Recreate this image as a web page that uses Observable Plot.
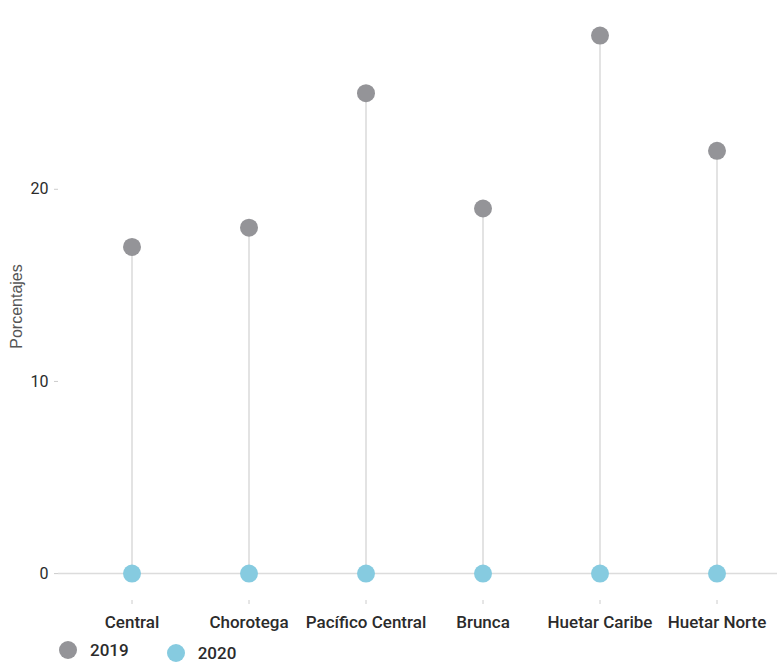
<!DOCTYPE html>
<html>
<head>
<meta charset="utf-8">
<script src="https://cdn.jsdelivr.net/npm/d3@7"></script>
<script src="https://cdn.jsdelivr.net/npm/@observablehq/plot@0.6"></script>
<style>
  body { margin: 0; background: #fff; font-family: Roboto, "Noto Sans", sans-serif; overflow: hidden; }
  #chart svg { display: block; }
  #legend { display: flex; align-items: flex-start; height: 22px; padding-left: 59px; font-size: 17px; line-height: 18px; font-weight: 500; color: #2b2b2b; }
  .item { display: flex; align-items: center; margin-right: 38px; }
  .sw { width: 18px; height: 18px; border-radius: 50%; margin-right: 13px; }
</style>
</head>
<body>
<div id="chart"></div>
<div id="legend"></div>
<script>
const regions = ["Central", "Chorotega", "Pacífico Central", "Brunca", "Huetar Caribe", "Huetar Norte"];
const values2019 = [17, 18, 25, 19, 28, 22];
const values2020 = [0, 0, 0, 0, 0, 0];
const years = ["2019", "2020"];
const colors = ["#949498", "#86cbe0"];
const yTicks = [0, 10, 20];

const data = regions.map((r, i) => ({region: r, v2019: values2019[i], v2020: values2020[i]}));

const plot = Plot.plot({
  width: 778,
  height: 641,
  marginLeft: 58,
  marginRight: 1,
  marginTop: 12,
  marginBottom: 41,
  style: {fontFamily: "Roboto, 'Noto Sans', sans-serif", fontSize: "16px", color: "#2b2b2b"},
  x: {type: "band", domain: regions, padding: 0, insetLeft: 12},
  y: {domain: [-1.4, 29.2]},
  marks: [
    Plot.ruleY([0], {stroke: "#dcdcdc", strokeWidth: 1.5}),
    Plot.ruleX(data, {x: "region", y1: "v2020", y2: "v2019", stroke: "#d0d0d0", strokeWidth: 1.2}),
    Plot.axisY({ticks: yTicks, tickSize: 4, tickPadding: 6, stroke: "#cccccc", color: "#2b2b2b", fontSize: 16, label: null, line: true}),
    Plot.axisX({tickSize: 4, tickPadding: 11, stroke: "#cccccc", color: "#2b2b2b", fontSize: 17, fontWeight: 500, label: null, line: true}),
    Plot.text(["Porcentajes"], {frameAnchor: "left", dx: -42, rotate: -90, fill: "#555", fontSize: 16, fontFamily: "'Liberation Sans', Arial, sans-serif", textAnchor: "middle"}),
    Plot.dot(data, {x: "region", y: "v2019", r: 9, fill: colors[0]}),
    Plot.dot(data, {x: "region", y: "v2020", r: 9, fill: colors[1]})
  ]
});
document.getElementById("chart").appendChild(plot);

const legend = document.getElementById("legend");
years.forEach((y, i) => {
  const item = document.createElement("div");
  item.className = "item";
  if (i === 1) item.style.marginTop = "3px";
  const sw = document.createElement("div");
  sw.className = "sw";
  sw.style.background = colors[i];
  const t = document.createElement("span");
  t.textContent = y;
  item.appendChild(sw);
  item.appendChild(t);
  legend.appendChild(item);
});
</script>
</body>
</html>
